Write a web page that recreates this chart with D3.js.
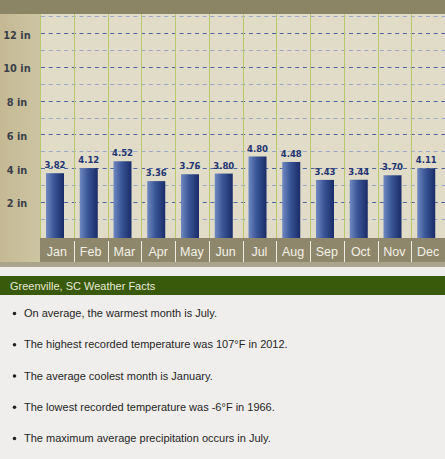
<!DOCTYPE html>
<html>
<head>
<meta charset="utf-8">
<script src="https://cdn.jsdelivr.net/npm/d3@7"></script>
<style>
  html, body { margin: 0; padding: 0; background: #efeeec; }
  svg { display: block; }
</style>
</head>
<body>
<svg id="chart" width="445" height="459"></svg>
<script>
const months = ["Jan","Feb","Mar","Apr","May","Jun","Jul","Aug","Sep","Oct","Nov","Dec"];
const precip = [3.82, 4.12, 4.52, 3.36, 3.76, 3.80, 4.80, 4.48, 3.43, 3.44, 3.70, 4.11];
const yTickValues = [2, 4, 6, 8, 10, 12];
const gridValues = [1, 2, 3, 4, 5, 6, 7, 8, 9, 10, 11, 12, 13];
const headerTitle = "Greenville, SC Weather Facts";
const facts = [
  "On average, the warmest month is July.",
  "The highest recorded temperature was 107°F in 2012.",
  "The average coolest month is January.",
  "The lowest recorded temperature was -6°F in 1966.",
  "The maximum average precipitation occurs in July."
];

const svg = d3.select("#chart");
const W = 445;
const plotL = 40, plotR = 445, plotT = 14, plotB = 238;

// scales
const x = d3.scaleBand().domain(months).range([plotL, plotR]).padding(0);
const y = d3.scaleLinear().domain([0, 12]).range([238.5, 33.5]);      // bars
const yGrid = d3.scaleLinear().domain([0, 12]).range([235.4, 33.3]);  // grid + axis labels

// defs
const defs = svg.append("defs");
const g1 = defs.append("linearGradient").attr("id", "barGrad").attr("x1", "0").attr("x2", "1").attr("y1", "0").attr("y2", "0");
g1.append("stop").attr("offset", "0%").attr("stop-color", "#7089c1");
g1.append("stop").attr("offset", "45%").attr("stop-color", "#3a5596");
g1.append("stop").attr("offset", "100%").attr("stop-color", "#1a2b68");
const g2 = defs.append("linearGradient").attr("id", "panelGrad").attr("x1", "0").attr("x2", "1").attr("y1", "0").attr("y2", "0");
g2.append("stop").attr("offset", "0%").attr("stop-color", "#c4b993");
g2.append("stop").attr("offset", "100%").attr("stop-color", "#cdc4a3");

// page background
svg.append("rect").attr("x", 0).attr("y", 0).attr("width", W).attr("height", 459).attr("fill", "#efeeec");

// top bar
svg.append("rect").attr("x", 0).attr("y", 0).attr("width", W).attr("height", plotT).attr("fill", "#8b8565");

// left panel
svg.append("rect").attr("x", 0).attr("y", plotT).attr("width", plotL).attr("height", 262 - plotT).attr("fill", "url(#panelGrad)");

// plot background
svg.append("rect").attr("x", plotL).attr("y", plotT).attr("width", plotR - plotL).attr("height", plotB - plotT).attr("fill", "#e1dcc7");

// category band
svg.append("rect").attr("x", plotL).attr("y", plotB).attr("width", plotR - plotL).attr("height", 262 - plotB).attr("fill", "#8f876b");

// strip below chart
svg.append("rect").attr("x", 0).attr("y", 262).attr("width", W).attr("height", 5).attr("fill", "#aaa48d");

// horizontal dashed grid
svg.append("g").selectAll("line").data(gridValues).join("line")
  .attr("x1", plotL + 1).attr("x2", plotR)
  .attr("y1", d => Math.round(yGrid(d)) + 0.5).attr("y2", d => Math.round(yGrid(d)) + 0.5)
  .attr("stroke", d => d % 2 === 0 ? "#5064a0" : "#9aa7c6")
  .attr("stroke-width", 1)
  .attr("stroke-dasharray", "4,3.7");

// vertical gridlines
const bounds = months.map(m => x(m)).concat([plotR]);
svg.append("g").selectAll("line").data(bounds).join("line")
  .attr("x1", d => Math.round(d) + 0.5).attr("x2", d => Math.round(d) + 0.5)
  .attr("y1", plotT).attr("y2", plotB)
  .attr("stroke", "#b8c96b").attr("stroke-width", 1);

// month separators in band
svg.append("g").selectAll("line").data(months.slice(1)).join("line")
  .attr("x1", d => Math.round(x(d)) + 0.5).attr("x2", d => Math.round(x(d)) + 0.5)
  .attr("y1", 241).attr("y2", 262)
  .attr("stroke", "#efece2").attr("stroke-width", 1);

// bars
const barOff = 6, barW = 18;
svg.append("g").selectAll("rect").data(precip).join("rect")
  .attr("x", (d, i) => x(months[i]) + barOff)
  .attr("y", d => y(d))
  .attr("width", barW)
  .attr("height", d => plotB - y(d))
  .attr("fill", "url(#barGrad)");

// value labels
const fmt = d3.format(".2f");
svg.append("g").selectAll("text").data(precip).join("text")
  .attr("x", (d, i) => x(months[i]) + barOff + barW / 2)
  .attr("y", d => y(d) - 5)
  .attr("text-anchor", "middle")
  .attr("font-family", "DejaVu Sans, Verdana, sans-serif")
  .attr("font-weight", "bold")
  .attr("font-size", "8.5px")
  .attr("fill", "#1f3472")
  .text(d => fmt(d));

// y axis labels
svg.append("g").selectAll("text").data(yTickValues).join("text")
  .attr("x", 17)
  .attr("y", d => yGrid(d) + 5.5)
  .attr("text-anchor", "middle")
  .attr("font-family", "DejaVu Sans, Verdana, sans-serif")
  .attr("font-weight", "bold")
  .attr("font-size", "9.8px")
  .attr("fill", "#3a3f48")
  .text(d => d + " in");

// month labels
svg.append("g").selectAll("text").data(months).join("text")
  .attr("x", d => x(d) + x.bandwidth() / 2)
  .attr("y", 256)
  .attr("text-anchor", "middle")
  .attr("font-family", "Liberation Sans, Arial, sans-serif")
  .attr("font-size", "12.5px")
  .attr("fill", "#f3f0e6")
  .text(d => d);

// header
svg.append("rect").attr("x", 0).attr("y", 276).attr("width", W).attr("height", 19).attr("fill", "#3a5a0b");
svg.append("text").attr("x", 10).attr("y", 289.5)
  .attr("font-family", "Liberation Sans, Arial, sans-serif")
  .attr("font-size", "11px").attr("fill", "#e6ead6")
  .text(headerTitle);

// facts list
const factY = d3.scaleLinear().domain([0, facts.length - 1]).range([317, 442]);
const fg = svg.append("g").selectAll("g").data(facts).join("g")
  .attr("transform", (d, i) => `translate(0,${factY(i)})`);
fg.append("circle").attr("cx", 14.5).attr("cy", -3.5).attr("r", 1.8).attr("fill", "#222");
fg.append("text").attr("x", 24).attr("y", 0)
  .attr("font-family", "Liberation Sans, Arial, sans-serif")
  .attr("font-size", "11px").attr("fill", "#262626")
  .text(d => d);
</script>
</body>
</html>
